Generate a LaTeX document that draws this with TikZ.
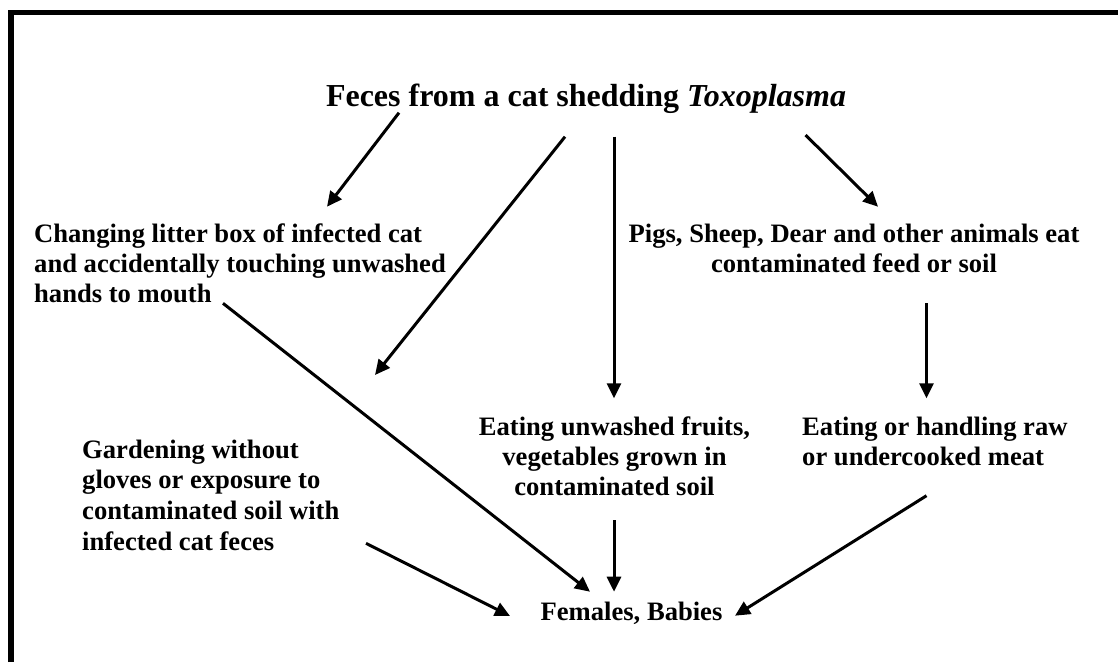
\documentclass[tikz,border=0pt]{standalone}
\usepackage{fontspec}
\setmainfont{Liberation Serif}
\usetikzlibrary{arrows.meta}
\tikzset{
  body/.style={inner sep=0pt, font=\bfseries\fontsize{26.6}{30}\selectfont},
  ttl/.style={inner sep=0pt, font=\bfseries\fontsize{32}{38}\selectfont},
  conn/.style={line width=3pt, -{Triangle[length=15pt,width=14pt]}},
  frame/.style={line width=5.5pt, line join=miter}
}
\begin{document}
\begin{tikzpicture}[x=1pt,y=-1pt]
\useasboundingbox (0,0) rectangle (1118,662);
\draw[frame] (11.2,662) -- (11.2,12.5) -- (1118,12.5);

\node[ttl, anchor=base] (src) at (586,106) {Feces from a cat shedding \textit{Toxoplasma}};
\node[body, anchor=base west, align=left] (litter) at (34,302.7)
  {Changing litter box of infected cat\\and accidentally touching unwashed\\hands to mouth};
\node[body, anchor=base, align=center] (pigs) at (854,272.7)
  {Pigs, Sheep, Dear and other animals eat\\contaminated feed or soil};
\node[body, anchor=base, align=center] (fruit) at (614.5,495)
  {Eating unwashed fruits,\\vegetables grown in\\contaminated soil};
\node[body, anchor=base west, align=left] (meat) at (802,465)
  {Eating or handling raw\\or undercooked meat};
\node[body, anchor=base west, align=left, font=\bfseries\fontsize{26.6}{30.6}\selectfont] (garden) at (82,550)
  {Gardening without\\gloves or exposure to\\contaminated soil with\\infected cat feces};
\node[body, anchor=base] (fem) at (631.5,620.5) {Females, Babies};

\coordinate (s1) at (399,112.7);  \coordinate (e1) at (327,206.7);
\coordinate (s2) at (565,136.7);  \coordinate (e2) at (375,375);
\coordinate (s3) at (614,136.7);  \coordinate (e3) at (614,398.3);
\coordinate (s4) at (805.5,135);  \coordinate (e4) at (878,206.7);
\coordinate (s5) at (926.5,303.3);\coordinate (e5) at (926.5,398.3);
\coordinate (s6) at (223,303.3);  \coordinate (e6) at (590,591.7);
\coordinate (s7) at (366,543.3);  \coordinate (e7) at (510,616);
\coordinate (s8) at (614,520);    \coordinate (e8) at (614,591.7);
\coordinate (s9) at (926.5,495.7);\coordinate (e9) at (735,615.7);

\draw[conn] (s1) -- (e1);
\draw[conn] (s2) -- (e2);
\draw[conn] (s3) -- (e3);
\draw[conn] (s4) -- (e4);
\draw[conn] (s5) -- (e5);
\draw[conn] (s6) -- (e6);
\draw[conn] (s7) -- (e7);
\draw[conn] (s8) -- (e8);
\draw[conn] (s9) -- (e9);
\end{tikzpicture}
\end{document}
